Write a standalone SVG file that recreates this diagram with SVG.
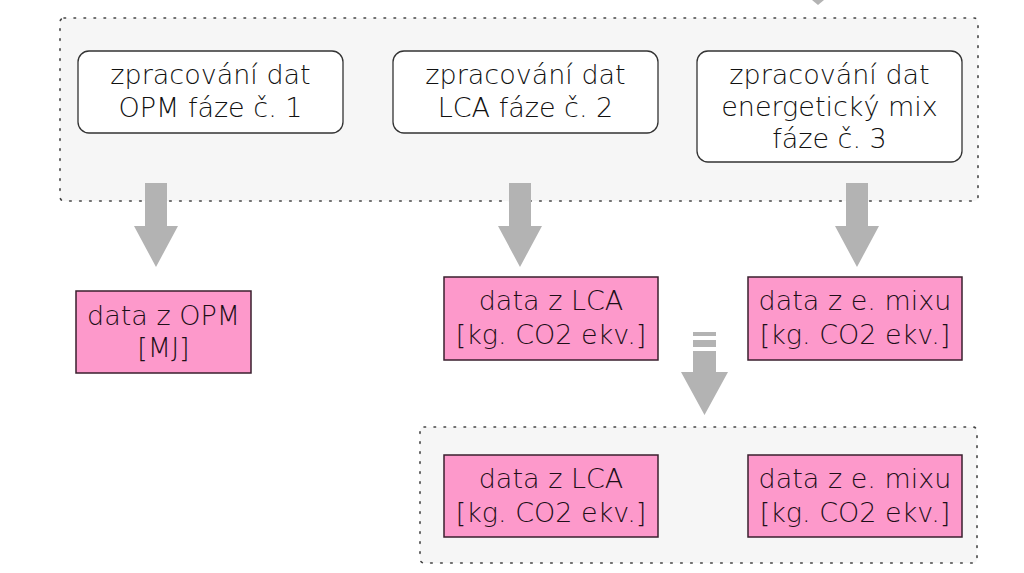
<svg xmlns="http://www.w3.org/2000/svg" width="1024" height="573" viewBox="0 0 1024 573">
<style>
.cont{fill:#f6f6f6;stroke:#444;stroke-width:1.6;stroke-dasharray:1.6 8.4;stroke-linecap:round}
.proc{fill:#fff;stroke:#333;stroke-width:1.3}
.pink{fill:#fd99cb;stroke:#3a1f2e;stroke-width:1.5}
.t{font-family:"DejaVu Sans",sans-serif;font-size:27px;font-weight:300;fill:#111;text-anchor:middle}
.tp{fill:#1e0f18}
.arr{fill:#b3b3b3}
</style>
<rect width="1024" height="573" fill="#fff"/>
<g id="container-top"><rect class="cont" x="60" y="18" width="918" height="183" rx="4"/></g>
<g id="container-bottom"><rect class="cont" x="420" y="427" width="557" height="136" rx="4"/></g>
<g id="n1"><rect class="proc" x="78" y="51" width="265" height="82" rx="11"/>
<text class="t" x="210.5" y="84">zpracování dat</text><text class="t" x="210.5" y="117">OPM fáze č. 1</text></g>
<g id="n2"><rect class="proc" x="393" y="51" width="265" height="82" rx="11"/>
<text class="t" x="525.5" y="84">zpracování dat</text><text class="t" x="525.5" y="117">LCA fáze č. 2</text></g>
<g id="n3"><rect class="proc" x="697" y="51" width="265" height="111" rx="11"/>
<text class="t" x="829.5" y="84">zpracování dat</text><text class="t" x="829.5" y="116">energetický mix</text><text class="t" x="829.5" y="148">fáze č. 3</text></g>
<g id="p1"><rect class="pink" x="76" y="291" width="175" height="82"/>
<text class="t tp" x="163.5" y="325">data z OPM</text><text class="t tp" x="163.5" y="357">[MJ]</text></g>
<g id="p2"><rect class="pink" x="444" y="277" width="214" height="83"/>
<text class="t tp" x="551" y="310">data z LCA</text><text class="t tp" x="551" y="344">[kg. CO2 ekv.]</text></g>
<g id="p3"><rect class="pink" x="748" y="277" width="214" height="83"/>
<text class="t tp" x="855" y="310">data z e. mixu</text><text class="t tp" x="855" y="344">[kg. CO2 ekv.]</text></g>
<g id="p4"><rect class="pink" x="444" y="455" width="214" height="82"/>
<text class="t tp" x="551" y="488">data z LCA</text><text class="t tp" x="551" y="522">[kg. CO2 ekv.]</text></g>
<g id="p5"><rect class="pink" x="748" y="455" width="214" height="82"/>
<text class="t tp" x="855" y="488">data z e. mixu</text><text class="t tp" x="855" y="522">[kg. CO2 ekv.]</text></g>
<g id="connectors">
<polygon class="arr" points="145,183 167,183 167,226 178,226 156,267 134,226 145,226"/>
<polygon class="arr" points="509,183 531,183 531,226 542,226 520,267 498,226 509,226"/>
<polygon class="arr" points="846,183 868,183 868,226 879,226 857,267 835,226 846,226"/>
<rect class="arr" x="693" y="332" width="23" height="4"/>
<rect class="arr" x="693" y="340" width="23" height="7"/>
<polygon class="arr" points="693,351 716,351 716,372 728,372 704.5,415 681,372 693,372"/>
<polygon class="arr" points="812,0 824,0 818,5"/>
</g>
</svg>
